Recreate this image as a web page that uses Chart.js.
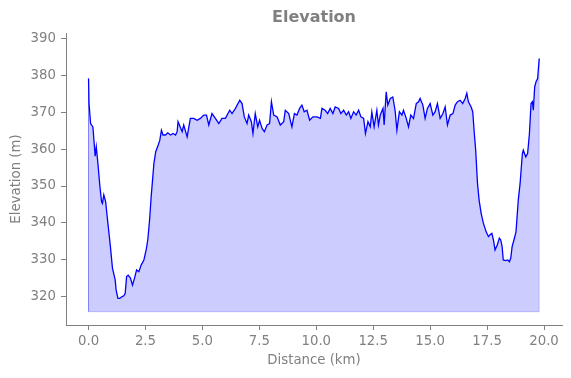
<!DOCTYPE html>
<html>
<head>
<meta charset="utf-8">
<script src="https://cdn.jsdelivr.net/npm/chart.js@4/dist/chart.umd.min.js"></script>
<style>
  html, body { margin: 0; padding: 0; background: #fff; }
  canvas { display: block; }
</style>
</head>
<body>
<canvas id="chart" width="571" height="378" style="width:571px;height:378px"></canvas>
<script>
// distance along the route (km)
const distance = [
  0.00, 0.02, 0.09, 0.19, 0.26, 0.29, 0.34, 0.41, 0.50, 0.57, 0.61, 0.67, 0.75, 0.85, 0.96,
  1.05, 1.17, 1.21, 1.29, 1.37, 1.48, 1.55, 1.61, 1.67, 1.74, 1.84, 1.93, 2.02, 2.11, 2.21,
  2.31, 2.43, 2.53, 2.60, 2.68, 2.75, 2.81, 2.87, 2.95, 3.06, 3.13, 3.20, 3.27, 3.38, 3.48,
  3.60, 3.71, 3.82, 3.89, 3.93, 3.99, 4.11, 4.18, 4.33, 4.47, 4.62, 4.77, 4.91, 5.06, 5.18,
  5.28, 5.42, 5.57, 5.72, 5.86, 6.01, 6.20, 6.30, 6.45, 6.64, 6.74, 6.84, 6.96, 7.03, 7.15,
  7.22, 7.32, 7.43, 7.51, 7.62, 7.72, 7.84, 7.95, 8.03, 8.13, 8.28, 8.42, 8.57, 8.64, 8.79,
  8.93, 9.04, 9.15, 9.27, 9.37, 9.47, 9.59, 9.71, 9.85, 10.03, 10.18, 10.25, 10.39, 10.50, 10.61,
  10.73, 10.83, 10.98, 11.08, 11.20, 11.32, 11.42, 11.52, 11.64, 11.75, 11.86, 11.96, 12.08, 12.16, 12.27,
  12.37, 12.44, 12.54, 12.66, 12.73, 12.81, 12.93, 12.98, 13.07, 13.14, 13.25, 13.36, 13.46, 13.54, 13.65,
  13.76, 13.83, 13.95, 14.05, 14.15, 14.27, 14.39, 14.49, 14.56, 14.68, 14.78, 14.88, 15.00, 15.12, 15.22,
  15.32, 15.44, 15.56, 15.66, 15.76, 15.88, 16.00, 16.10, 16.20, 16.32, 16.43, 16.54, 16.61, 16.68, 16.80,
  16.87, 16.94, 17.00, 17.08, 17.15, 17.24, 17.34, 17.46, 17.56, 17.63, 17.71, 17.78, 17.85, 17.95, 18.04,
  18.10, 18.16, 18.21, 18.32, 18.41, 18.48, 18.54, 18.60, 18.68, 18.77, 18.87, 18.95, 19.05, 19.09, 19.20,
  19.28, 19.36, 19.43, 19.49, 19.53, 19.59, 19.65, 19.72, 19.79
];

// elevation (m)
const elevation = [
  379.1, 372.4, 366.9, 366.0, 360.6, 358.1, 360.6, 356.2, 349.8, 345.8, 345.3, 347.6, 345.8, 339.9, 333.6,
  327.8, 324.6, 321.9, 319.6, 319.6, 320.1, 320.3, 321.0, 325.5, 325.9, 325.1, 323.2, 325.1, 327.3, 326.8,
  328.6, 330.0, 332.7, 335.4, 340.8, 347.1, 351.6, 356.1, 359.3, 361.1, 362.4, 365.1, 363.8, 363.8, 364.4,
  363.8, 364.2, 363.8, 364.7, 367.4, 366.5, 364.7, 366.5, 363.3, 368.3, 368.3, 367.8, 368.3, 369.2, 369.2,
  366.5, 369.6, 368.3, 366.9, 368.3, 368.3, 370.5, 369.6, 371.0, 373.2, 372.3, 368.7, 366.9, 369.2, 367.4,
  364.2, 369.6, 366.0, 367.8, 365.6, 364.7, 366.5, 366.9, 372.8, 369.2, 368.7, 366.5, 367.4, 370.5, 369.6,
  366.0, 369.6, 369.2, 371.0, 371.9, 370.1, 370.5, 367.8, 368.7, 368.7, 368.3, 371.0, 370.5, 369.6, 371.0,
  369.6, 371.4, 371.0, 369.6, 370.5, 369.2, 370.1, 368.3, 370.1, 369.2, 370.5, 368.7, 368.3, 364.2, 367.4,
  366.0, 370.0, 366.0, 370.5, 366.5, 369.2, 371.0, 366.5, 375.5, 371.9, 373.7, 374.1, 370.5, 365.1, 370.1,
  369.2, 370.5, 368.3, 366.0, 369.2, 368.3, 372.3, 372.8, 373.7, 371.9, 368.3, 371.0, 372.3, 369.2, 370.1,
  372.3, 368.3, 369.6, 371.4, 366.5, 369.2, 369.6, 371.9, 372.8, 373.2, 372.3, 373.7, 375.1, 372.8, 371.4,
  370.1, 364.2, 359.7, 350.7, 346.2, 342.6, 339.9, 337.6, 336.3, 336.8, 337.2, 335.4, 332.7, 334.1, 335.9,
  335.4, 333.6, 330.0, 329.8, 330.0, 329.5, 330.5, 333.6, 335.4, 337.6, 346.2, 350.7, 358.8, 359.7, 357.9,
  358.8, 364.2, 372.3, 372.8, 370.5, 376.8, 378.2, 379.1, 384.5
];

const fillBase = 316;
const xTicks = [0, 2.5, 5, 7.5, 10, 12.5, 15, 17.5, 20];
const yTicks = [320, 330, 340, 350, 360, 370, 380, 390];
const chartTitle = 'Elevation';

const profile = distance.map((d, i) => ({ x: d, y: elevation[i] }));
const last = distance.length - 1;
// outline of the shaded area (sides and bottom)
const outline = [
  { x: distance[0], y: elevation[0] },
  { x: distance[0], y: fillBase },
  { x: distance[last], y: fillBase },
  { x: distance[last], y: elevation[last] }
];

Chart.defaults.font.family = 'DejaVu Sans';
Chart.defaults.color = '#808080';

const grey = '#808080';

// title centred over the plot area, like matplotlib does
const axesTitle = {
  id: 'axesTitle',
  afterDraw(chart) {
    const { ctx, chartArea } = chart;
    ctx.save();
    ctx.font = 'bold 16px "DejaVu Sans"';
    ctx.fillStyle = grey;
    ctx.textAlign = 'center';
    ctx.textBaseline = 'middle';
    ctx.fillText(chartTitle, (chartArea.left + chartArea.right) / 2, 18);
    ctx.restore();
  }
};

new Chart(document.getElementById('chart'), {
  type: 'line',
  data: {
    datasets: [
      {
        data: outline,
        borderColor: 'rgba(0,0,255,0.2)',
        borderWidth: 1,
        pointRadius: 0,
        fill: false
      },
      {
        data: profile,
        borderColor: '#0000ff',
        borderWidth: 1.3,
        backgroundColor: 'rgba(0,0,255,0.2)',
        pointRadius: 0,
        tension: 0,
        fill: { value: fillBase }
      }
    ]
  },
  plugins: [axesTitle],
  options: {
    responsive: false,
    animation: false,
    devicePixelRatio: 1,
    layout: { padding: { left: 0, right: 9, top: 33, bottom: 0 } },
    plugins: {
      legend: { display: false },
      tooltip: { enabled: false },
      title: { display: false }
    },
    scales: {
      x: {
        type: 'linear',
        min: -0.99,
        max: 20.79,
        afterBuildTicks: (s) => { s.ticks = xTicks.map(v => ({ value: v })); },
        afterFit: (s) => { s.height = 53; },
        grid: { display: true, drawOnChartArea: false, tickLength: 5, tickColor: grey, tickWidth: 1 },
        border: { display: true, color: grey, width: 1 },
        ticks: { padding: 4, font: { size: 13.3 }, color: grey, maxRotation: 0, callback: (v) => v.toFixed(1) },
        title: { display: true, text: 'Distance (km)', color: grey, font: { size: 13.3 }, padding: { top: 0, bottom: 9 } }
      },
      y: {
        min: 312.4,
        max: 391.4,
        afterBuildTicks: (s) => { s.ticks = yTicks.map(v => ({ value: v })); },
        afterFit: (s) => { s.width = 66; },
        grid: { display: true, drawOnChartArea: false, tickLength: 5, tickColor: grey, tickWidth: 1 },
        border: { display: true, color: grey, width: 1 },
        ticks: { padding: 5, font: { size: 13.3 }, color: grey },
        title: { display: true, text: 'Elevation (m)', color: grey, font: { size: 13.3 }, padding: { top: 9, bottom: 0 } }
      }
    }
  }
});
</script>
</body>
</html>
